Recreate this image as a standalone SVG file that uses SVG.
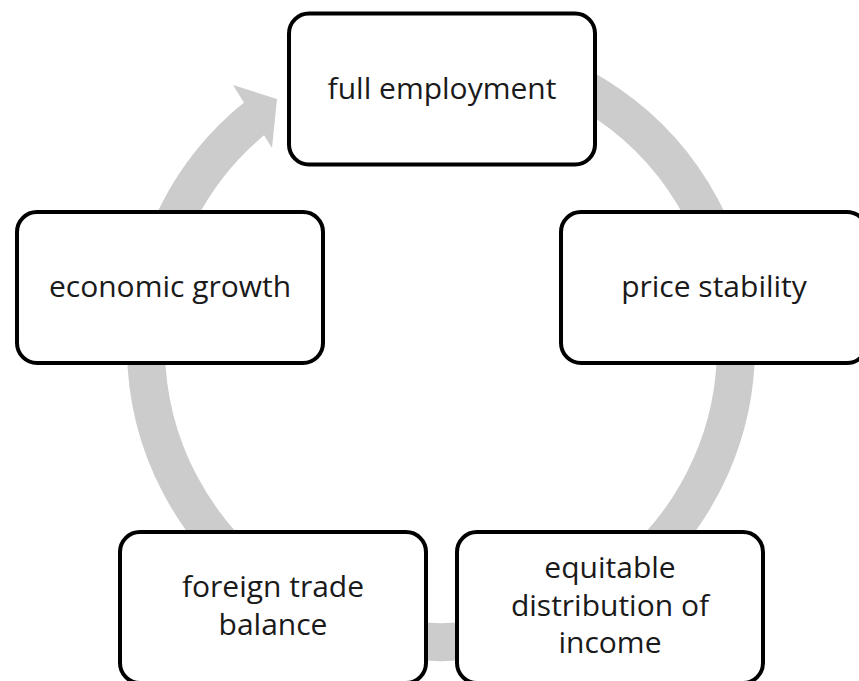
<svg xmlns="http://www.w3.org/2000/svg" width="859" height="681" viewBox="0 0 859 681">
  <style>
    .node rect { fill: #ffffff; stroke: #000000; stroke-width: 4; }
    .node text { font-family: "Open Sans", "Liberation Sans", sans-serif; font-size: 30px; fill: #1a1a1a; text-anchor: middle; }
    .ring { fill: none; stroke: #cccccc; stroke-width: 38; }
    .head { fill: #cccccc; stroke: none; }
  </style>
  <rect x="0" y="0" width="859" height="681" fill="#ffffff"/>
  <g id="connectors">
    <path class="ring" d="M 492.2 56.5 A 295 295 0 1 1 257.4 116.1"/>
    <polygon class="head" points="233,85 277,99 272,148"/>
  </g>
  <g id="node-full-employment" class="node">
    <rect x="289" y="13.5" width="306" height="151" rx="20" ry="20"/>
    <text x="442" y="98.5">full employment</text>
  </g>
  <g id="node-price-stability" class="node">
    <rect x="561" y="212" width="306" height="151" rx="20" ry="20"/>
    <text x="714" y="297">price stability</text>
  </g>
  <g id="node-equitable-distribution" class="node">
    <rect x="457" y="532" width="306" height="151" rx="20" ry="20"/>
    <text x="610" y="578">equitable</text>
    <text x="610" y="615.5">distribution of</text>
    <text x="610" y="653">income</text>
  </g>
  <g id="node-foreign-trade-balance" class="node">
    <rect x="120" y="532" width="306" height="151" rx="20" ry="20"/>
    <text x="273" y="597">foreign trade</text>
    <text x="273" y="635">balance</text>
  </g>
  <g id="node-economic-growth" class="node">
    <rect x="17" y="212" width="306" height="151" rx="20" ry="20"/>
    <text x="170" y="297">economic growth</text>
  </g>
</svg>
